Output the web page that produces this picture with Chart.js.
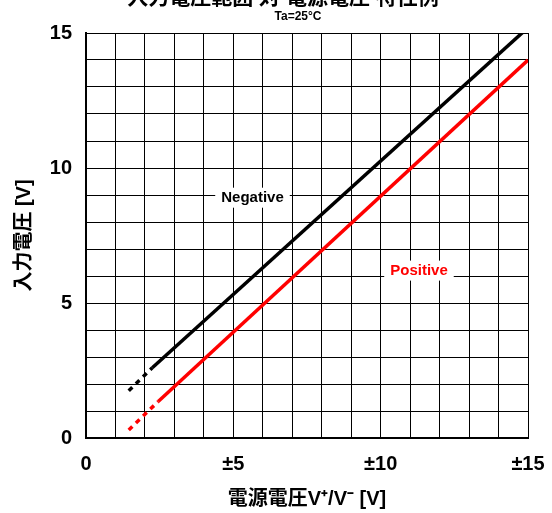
<!DOCTYPE html>
<html>
<head>
<meta charset="utf-8">
<script src="https://cdn.jsdelivr.net/npm/chart.js@4"></script>
<style>
  html, body { margin: 0; padding: 0; background: #fff; }
  #wrap { width: 552px; height: 513px; }
</style>
</head>
<body>
<div id="wrap"><canvas id="rangeChart" width="552" height="513"></canvas></div>
<script>
// supply voltage (x) vs input voltage (y)
const supplyNeg = [1.45, 2.25, 15];
const inputNeg = [1.75, 2.6, 15.2];
const supplyPos = [1.45, 2.45, 15];
const inputPos = [0.3, 1.35, 14.0];

const xTickLabels = { 0: '0', 5: '±5', 10: '±10', 15: '±15' };
const yTickLabels = { 0: '0', 5: '5', 10: '10', 15: '15' };

// series name tags placed in data coordinates
const seriesTags = [
    { text: 'Negative', x: 5.65, y: 8.9, color: '#000000' },
    { text: 'Positive', x: 11.3, y: 6.2, color: '#ff0000' }
];

const FONT = "'Liberation Sans', Arial, 'Noto Sans CJK JP', sans-serif";

function toPoints(xs, ys) {
    return xs.map((x, i) => ({ x: x, y: ys[i] }));
}

// first segment of each curve is drawn dashed
const dashFirst = {
    borderDash: ctx => ctx.p0DataIndex === 0 ? [5, 5] : undefined
};

// title sits mostly above the canvas edge, like in the scan
const headerPlugin = {
    id: 'header',
    afterDraw(chart) {
        const ctx = chart.ctx;
        const cx = 283;
        ctx.save();
        ctx.fillStyle = '#000';
        ctx.textAlign = 'center';
        ctx.font = "bold 21px " + FONT;
        ctx.textBaseline = 'alphabetic';
        ctx.fillText('入力電圧範囲 対 電源電圧 特性例', cx, 4);
        ctx.font = "bold 12px " + FONT;
        ctx.textBaseline = 'middle';
        ctx.fillText('Ta=25°C', cx + 15, 17);
        ctx.restore();
    }
};

const tagPlugin = {
    id: 'tags',
    afterDatasetsDraw(chart) {
        const ctx = chart.ctx;
        const xs = chart.scales.x;
        const ys = chart.scales.y;
        ctx.save();
        ctx.font = "bold 15px " + FONT;
        ctx.textAlign = 'center';
        ctx.textBaseline = 'middle';
        seriesTags.forEach(tag => {
            const px = xs.getPixelForValue(tag.x);
            const py = ys.getPixelForValue(tag.y);
            const w = ctx.measureText(tag.text).width + 12;
            ctx.fillStyle = '#fff';
            ctx.fillRect(px - w / 2, py - 10, w, 20);
            ctx.fillStyle = tag.color;
            ctx.fillText(tag.text, px, py);
        });
        ctx.restore();
    }
};

new Chart(document.getElementById('rangeChart').getContext('2d'), {
    type: 'line',
    data: {
        datasets: [
            {
                label: 'Negative',
                data: toPoints(supplyNeg, inputNeg),
                borderColor: '#000000',
                borderWidth: 3.5,
                pointRadius: 0,
                segment: dashFirst
            },
            {
                label: 'Positive',
                data: toPoints(supplyPos, inputPos),
                borderColor: '#ff0000',
                borderWidth: 3.5,
                pointRadius: 0,
                segment: dashFirst
            }
        ]
    },
    options: {
        responsive: false,
        animation: false,
        layout: { padding: { top: 33, right: 24, left: 0, bottom: 0 } },
        plugins: {
            legend: { display: false },
            tooltip: { enabled: false }
        },
        scales: {
            x: {
                type: 'linear',
                min: 0,
                max: 15,
                afterFit: scale => {
                    scale.height = 75;
                    scale.paddingLeft = 0;
                    scale.paddingRight = 0;
                },
                ticks: {
                    stepSize: 1,
                    autoSkip: false,
                    maxRotation: 0,
                    padding: 14,
                    color: '#000',
                    font: { family: FONT, size: 20, weight: 'bold' },
                    callback: v => xTickLabels[v] !== undefined ? xTickLabels[v] : ''
                },
                grid: { color: '#000', lineWidth: 1, drawTicks: false },
                border: { color: '#000', width: 2 },
                title: {
                    display: true,
                    text: '電源電圧V⁺/V⁻ [V]',
                    color: '#000',
                    font: { family: FONT, size: 20, weight: 'bold' },
                    padding: { top: 0, bottom: 2 }
                }
            },
            y: {
                min: 0,
                max: 15,
                afterFit: scale => { scale.width = 86; },
                ticks: {
                    stepSize: 1,
                    autoSkip: false,
                    padding: 14,
                    color: '#000',
                    font: { family: FONT, size: 20, weight: 'bold' },
                    callback: v => yTickLabels[v] !== undefined ? yTickLabels[v] : ''
                },
                grid: { color: '#000', lineWidth: 1, drawTicks: false },
                border: { color: '#000', width: 2 },
                title: {
                    display: true,
                    text: '入力電圧 [V]',
                    color: '#000',
                    font: { family: FONT, size: 20, weight: 'bold' },
                    padding: { top: 12, bottom: 0 }
                }
            }
        }
    },
    plugins: [headerPlugin, tagPlugin]
});
</script>
</body>
</html>
